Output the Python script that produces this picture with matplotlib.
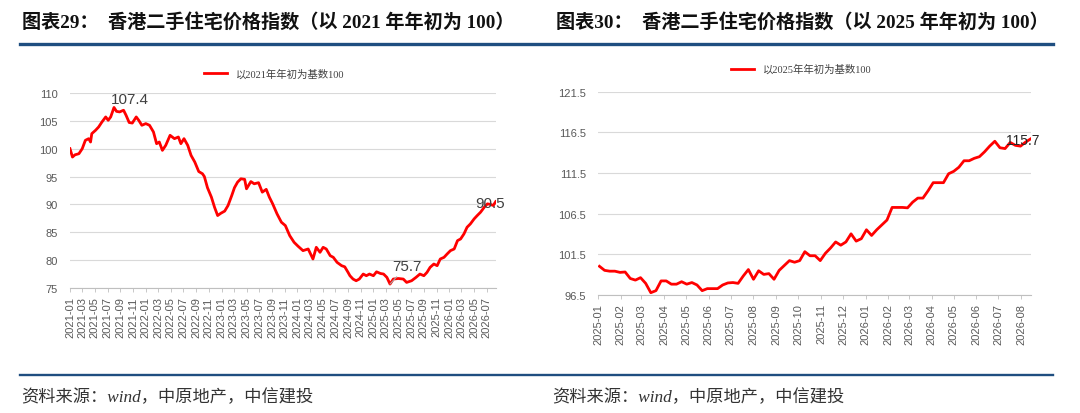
import pandas as pd
import matplotlib
matplotlib.use('Agg')
import matplotlib.pyplot as plt
import matplotlib.dates as mdates
from matplotlib.lines import Line2D

plt.rcParams['font.family'] = ['Liberation Sans', 'Noto Sans CJK SC', 'DejaVu Sans']

# ---- data: left chart, index with start of 2021 = 100
dates_2021 = ['2021-01-01', '2021-01-13', '2021-01-25', '2021-02-13', '2021-03-01', '2021-03-16',
              '2021-04-01', '2021-04-10', '2021-04-16', '2021-05-04', '2021-05-19', '2021-06-04',
              '2021-06-22', '2021-07-04', '2021-07-16', '2021-08-01', '2021-08-13', '2021-08-28',
              '2021-09-16', '2021-09-28', '2021-10-13', '2021-10-28', '2021-11-16', '2021-11-28',
              '2021-12-13', '2022-01-01', '2022-01-19', '2022-02-07', '2022-02-22', '2022-03-07',
              '2022-03-22', '2022-04-07', '2022-04-28', '2022-05-19', '2022-06-07', '2022-06-19',
              '2022-07-04', '2022-07-22', '2022-08-07', '2022-08-25', '2022-09-13', '2022-10-01',
              '2022-10-10', '2022-10-25', '2022-11-13', '2022-11-28', '2022-12-13', '2022-12-28',
              '2023-01-16', '2023-02-01', '2023-02-19', '2023-03-04', '2023-03-19', '2023-04-04',
              '2023-04-22', '2023-05-01', '2023-05-22', '2023-06-07', '2023-06-28', '2023-07-16',
              '2023-08-04', '2023-08-19', '2023-09-04', '2023-09-25', '2023-10-16', '2023-11-04',
              '2023-11-25', '2023-12-16', '2024-01-04', '2024-01-28', '2024-02-22', '2024-03-16',
              '2024-04-01', '2024-04-19', '2024-05-04', '2024-05-19', '2024-06-07', '2024-06-22',
              '2024-07-10', '2024-08-01', '2024-08-16', '2024-09-01', '2024-09-10', '2024-09-25',
              '2024-10-10', '2024-10-25', '2024-11-13', '2024-11-28', '2024-12-13', '2025-01-01',
              '2025-01-16', '2025-02-04', '2025-02-19', '2025-03-07', '2025-03-22', '2025-04-07',
              '2025-05-01', '2025-05-25', '2025-06-10', '2025-07-04', '2025-07-25', '2025-08-13',
              '2025-09-01', '2025-09-16', '2025-10-01', '2025-10-19', '2025-11-04', '2025-11-19',
              '2025-12-07', '2025-12-22', '2026-01-07', '2026-01-25', '2026-02-10', '2026-02-25',
              '2026-03-13', '2026-03-28', '2026-04-13', '2026-05-01', '2026-05-16', '2026-06-01',
              '2026-06-19', '2026-07-04', '2026-07-19', '2026-08-01', '2026-08-13']
index_2021 = [100.0, 98.5, 98.9, 99.1, 100.0, 101.5,
              101.8, 101.2, 102.7, 103.3, 103.9, 104.8,
              105.7, 105.1, 105.7, 107.4, 106.7, 106.6,
              106.9, 106.0, 104.7, 104.6, 105.7, 105.1,
              104.2, 104.5, 104.2, 103.0, 100.9, 101.2,
              99.7, 100.6, 102.4, 101.8, 102.1, 100.9,
              101.8, 100.6, 98.8, 97.6, 95.9, 95.5,
              95.0, 93.0, 91.3, 89.5, 88.0, 88.4,
              88.8, 89.8, 91.6, 93.0, 94.0, 94.6,
              94.5, 92.8, 94.1, 93.7, 93.9, 92.2,
              92.7, 91.3, 90.1, 88.3, 86.8, 86.2,
              84.4, 83.2, 82.5, 81.7, 82.0, 80.2,
              82.3, 81.4, 82.3, 82.0, 80.8, 80.5,
              79.6, 79.0, 78.8, 77.8, 77.2, 76.6,
              76.3, 76.6, 77.5, 77.2, 77.5, 77.2,
              77.9, 77.6, 77.5, 76.9, 75.7, 76.6,
              76.7, 76.6, 76.0, 76.3, 76.9, 77.5,
              77.2, 77.8, 78.7, 79.3, 79.0, 80.2,
              80.5, 81.1, 81.7, 82.0, 83.5, 83.8,
              84.7, 85.9, 86.5, 87.4, 88.0, 88.6,
              89.5, 90.1, 90.0, 89.8, 90.5]

# ---- data: right chart, weekly index with start of 2025 = 100
start_2025 = '2025-01-03'
index_2025 = [100.0, 99.5, 99.4, 99.4, 99.25, 99.3, 98.5, 98.3, 98.6, 97.9,
              96.75, 97.0, 98.2, 98.2, 97.8, 97.8, 98.1, 97.8, 98.0, 97.7,
              97.0, 97.25, 97.25, 97.25, 97.7, 97.95, 98.0, 97.9, 98.8, 99.6,
              98.4, 99.45, 99.0, 99.1, 98.4, 99.5, 100.1, 100.7, 100.5, 100.7,
              101.8, 101.3, 101.3, 100.7, 101.6, 102.25, 103.0, 102.6, 103.0, 104.0,
              103.1, 103.4, 104.5, 103.8, 104.5, 105.1, 105.7, 107.25, 107.25, 107.25,
              107.2, 107.9, 108.4, 108.4, 109.3, 110.3, 110.3, 110.3, 111.4, 111.7,
              112.2, 113.0, 113.0, 113.3, 113.5, 114.1, 114.8, 115.4, 114.6, 114.5,
              115.25, 114.9, 114.8, 115.3, 115.7]

legend_left = '以2021年年初为基数100'
legend_right = '以2025年年初为基数100'
title_left = '图表29：  香港二手住宅价格指数（以 2021 年年初为 100）'
title_right = '图表30：  香港二手住宅价格指数（以 2025 年年初为 100）'
source_text = '资料来源：wind，中原地产，中信建投'

RED = '#ff0000'
BLUE = '#1f4e80'
GRID = '#d9d9d9'
TICK = '#595959'
SERIF_CJK = ['Liberation Serif', 'Noto Sans CJK SC']

x_left = pd.to_datetime(dates_2021)
x_right = pd.date_range(start_2025, periods=len(index_2025), freq='7D')

fig = plt.figure(figsize=(10.8, 4.14), dpi=100)

# header / footer
fig.text(0.0205, 0.947, title_left, family=SERIF_CJK, fontweight='bold', fontsize=13.8,
         color='#111111', va='center', ha='left')
fig.text(0.515, 0.947, title_right, family=SERIF_CJK, fontweight='bold', fontsize=13.8,
         color='#111111', va='center', ha='left')
fig.add_artist(Line2D([0.0185, 0.975], [0.8925, 0.8925], color=BLUE, lw=2.4))
fig.add_artist(Line2D([0.0185, 0.975], [0.0906, 0.0906], color=BLUE, lw=1.7))
fig.text(0.02, 0.04, source_text, family=SERIF_CJK, style='italic', fontsize=12.4,
         color='#333333', va='center', ha='left')
fig.text(0.511, 0.04, source_text, family=SERIF_CJK, style='italic', fontsize=12.4,
         color='#333333', va='center', ha='left')


def style_axis(ax, ylabel_pad, xfs, yfs):
    for s in ['top', 'left', 'right']:
        ax.spines[s].set_visible(False)
    ax.spines['bottom'].set_color('#bfbfbf')
    ax.grid(axis='y', color=GRID, lw=0.8)
    ax.set_axisbelow(True)
    ax.tick_params(axis='y', length=0, pad=ylabel_pad, labelsize=yfs, labelcolor=TICK)
    ax.tick_params(axis='x', length=3, width=0.6, color='#bfbfbf', pad=3,
                   labelsize=xfs, labelcolor=TICK, labelrotation=90)


# left chart
ax1 = fig.add_axes([0.0648, 0.302, 0.3942, 0.471])
ax1.plot(x_left, index_2021, color=RED, lw=2.0, label=legend_left)
ax1.set_ylim(75, 110)
ax1.set_yticks(range(75, 111, 5))
ax1.set_xlim(x_left[0], x_left[-1])
ax1.xaxis.set_major_locator(mdates.MonthLocator(bymonth=[1, 3, 5, 7, 9, 11]))
ax1.xaxis.set_major_formatter(mdates.DateFormatter('%Y-%m'))
style_axis(ax1, 9.0, 8, 8)
ax1.legend(loc='center', bbox_to_anchor=(0.48, 1.1), frameon=False, handlelength=2.2,
           prop={'family': SERIF_CJK, 'size': 7.5}, labelcolor='#404040')

imax = index_2021.index(max(index_2021))
ax1.annotate(f'{index_2021[imax]:.1f}', (x_left[imax], index_2021[imax]),
             xytext=(-2, 1), textcoords='offset points', ha='left', va='bottom',
             fontsize=11, color='#404040')
imin = index_2021.index(min(index_2021))
ax1.annotate(f'{index_2021[imin]:.1f}', (x_left[imin], index_2021[imin]),
             xytext=(12, 13), textcoords='offset points', ha='center', va='center',
             fontsize=11, color='#404040',
             arrowprops=dict(arrowstyle='-', color='#a6a6a6', lw=0.8, shrinkA=1, shrinkB=0))
ax1.annotate(f'{index_2021[-1]:.1f}', (x_left[-1], index_2021[-1]),
             xytext=(-4, -1), textcoords='offset points', ha='center', va='center',
             fontsize=11, color='#404040')

# right chart
ax2 = fig.add_axes([0.5537, 0.2857, 0.4007, 0.4903])
ax2.plot(x_right, index_2025, color=RED, lw=2.0, label=legend_right)
ax2.set_ylim(96.5, 121.5)
ax2.set_yticks([96.5, 101.5, 106.5, 111.5, 116.5, 121.5])
ax2.set_xlim(pd.Timestamp('2025-01-01'), x_right[-1])
ax2.xaxis.set_major_locator(mdates.MonthLocator())
ax2.xaxis.set_major_formatter(mdates.DateFormatter('%Y-%m'))
style_axis(ax2, 8.5, 8, 8)
ax2.legend(loc='center', bbox_to_anchor=(0.47, 1.112), frameon=False, handlelength=2.2,
           prop={'family': SERIF_CJK, 'size': 7.5}, labelcolor='#404040')
ax2.annotate(f'{index_2025[-1]:.1f}', (x_right[-1], index_2025[-1]),
             xytext=(-6, -1), textcoords='offset points', ha='center', va='center',
             fontsize=10, color='#262626')

fig.savefig('out.png', dpi=100)
